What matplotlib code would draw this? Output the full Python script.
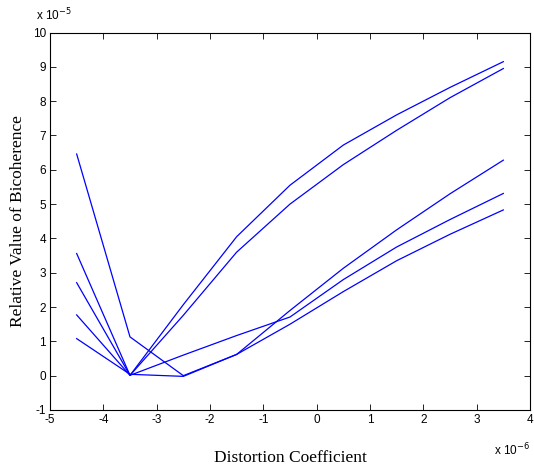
import matplotlib
matplotlib.use("Agg")
import matplotlib.pyplot as plt

# x in units of 1e-6, y in units of 1e-5
x = [-4.5, -3.5, -2.5, -1.5, -0.5, 0.5, 1.5, 2.5, 3.5]
series_a = [6.46, 1.13, 0.00, 0.62, 1.90, 3.13, 4.25, 5.30, 6.28]
series_b = [3.56, 0.01, 2.07, 4.05, 5.55, 6.72, 7.60, 8.40, 9.15]
series_c = [2.71, 0.01, 1.76, 3.60, 5.00, 6.15, 7.15, 8.10, 8.95]
series_d = [1.77, 0.01, 0.60, 1.17, 1.71, 2.80, 3.75, 4.55, 5.31]
series_e = [1.08, 0.04, -0.02, 0.62, 1.50, 2.45, 3.35, 4.12, 4.83]
series = [series_a, series_b, series_c, series_d, series_e]

xticks = [-5, -4, -3, -2, -1, 0, 1, 2, 3, 4]
yticks = [-1, 0, 1, 2, 3, 4, 5, 6, 7, 8, 9, 10]

plt.rcParams['font.family'] = ['Liberation Sans', 'DejaVu Sans']
plt.rcParams['axes.unicode_minus'] = False
fig = plt.figure(figsize=(5.34, 4.66), dpi=100)
ax = fig.add_axes([50/534, 56/466, 480/534, 377.5/466])

for s in series:
    ax.plot(x, s, color='#0000ff', lw=0.9)

ax.set_xlim(-5, 4)
ax.set_ylim(-1, 10)
ax.set_xticks(xticks)
ax.set_yticks(yticks)
ax.tick_params(direction='in', length=4, width=0.6, top=True, right=True,
               labelsize=8.5, pad=3, colors='black')
for sp in ax.spines.values():
    sp.set_linewidth(0.8)

ax.set_xlabel('Distortion Coefficient', family=['Liberation Serif'], fontsize=12.5, labelpad=17)
ax.set_ylabel('Relative Value of Bicoherence', family=['Liberation Serif'], fontsize=12.5, labelpad=5)

fig.text(36/534, 1 - 20/466, 'x 10$^{-5}$', fontsize=8.5, ha='left', va='baseline')
fig.text(530/534, 1 - 455/466, 'x 10$^{-6}$', fontsize=8.5, ha='right', va='baseline')

fig.savefig('out.png', dpi=100)
